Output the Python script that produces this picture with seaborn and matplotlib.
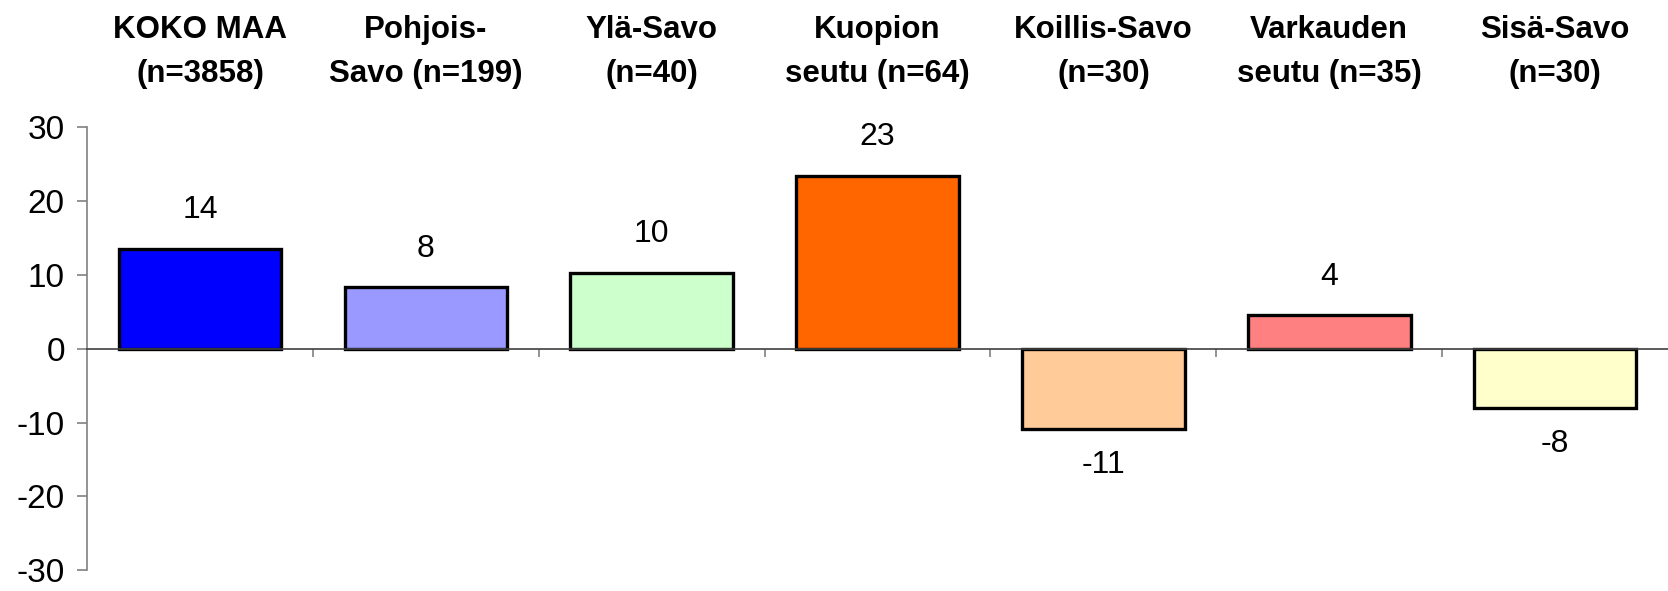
import matplotlib
matplotlib.use('Agg')
import matplotlib.pyplot as plt
import matplotlib.transforms as mtransforms
import seaborn as sns
import pandas as pd

# chart data
regions = ['KOKO MAA\n(n=3858)', 'Pohjois-\nSavo (n=199)', 'Ylä-Savo\n(n=40)',
           'Kuopion\nseutu (n=64)', 'Koillis-Savo\n(n=30)', 'Varkauden\nseutu (n=35)',
           'Sisä-Savo\n(n=30)']
values = [13.5, 8.3, 10.3, 23.4, -10.9, 4.5, -8.0]
value_labels = ['14', '8', '10', '23', '-11', '4', '-8']
colors = ['#0000FF', '#9999FF', '#CCFFCC', '#FF6600', '#FFCC99', '#FF8080', '#FFFFCC']
yticks = [-30, -20, -10, 0, 10, 20, 30]

df = pd.DataFrame({'region': regions, 'value': values})

sns.set_style('white')
plt.rcParams['font.family'] = ['Liberation Sans', 'DejaVu Sans']
plt.rcParams['text.color'] = 'black'
plt.rcParams['ytick.labelcolor'] = 'black'

fig = plt.figure(figsize=(16.68, 5.91), dpi=100)
ax = fig.add_axes([0.0522, 0.035, 0.9478, 0.75])

sns.barplot(data=df, x='region', y='value', hue='region', palette=colors,
            legend=False, width=0.72, edgecolor='black', linewidth=2.4,
            saturation=1, ax=ax)

ax.set_xlim(-0.5, len(regions) - 0.5)
ax.set_ylim(-30, 30)
ax.set_yticks(yticks)
ax.set_yticklabels([str(t) for t in yticks], fontsize=24, color='black')
ax.set_xlabel('')
ax.set_ylabel('')

# axis lines
for s in ['top', 'right']:
    ax.spines[s].set_visible(False)
ax.spines['left'].set_color('#808080')
ax.spines['left'].set_linewidth(1.2)
ax.spines['bottom'].set_position(('data', 0))
ax.spines['bottom'].set_color('#404040')
ax.spines['bottom'].set_linewidth(1.2)
ax.tick_params(axis='y', direction='out', length=7, width=1.2, color='#808080',
               pad=9, left=True)

# x ticks at category boundaries, no labels at the bottom
ax.set_xticks([i + 0.5 for i in range(len(regions) - 1)])
ax.set_xticklabels([])
ax.tick_params(axis='x', direction='out', length=6, width=1.2, color='#808080',
               bottom=True)

# category labels at the top
trans = mtransforms.blended_transform_factory(ax.transData, fig.transFigure)
for i, name in enumerate(regions):
    ax.text(i, 0.912, name, transform=trans, ha='center', va='center',
            fontsize=22.5, fontweight='bold', linespacing=1.62)

# value labels
for i, (v, lab) in enumerate(zip(values, value_labels)):
    if v >= 0:
        ax.annotate(lab, (i, v), xytext=(0, 17), textcoords='offset points',
                    ha='center', va='bottom', fontsize=23)
    else:
        ax.annotate(lab, (i, v), xytext=(0, -15), textcoords='offset points',
                    ha='center', va='top', fontsize=23)

fig.savefig('out.png', dpi=100)
